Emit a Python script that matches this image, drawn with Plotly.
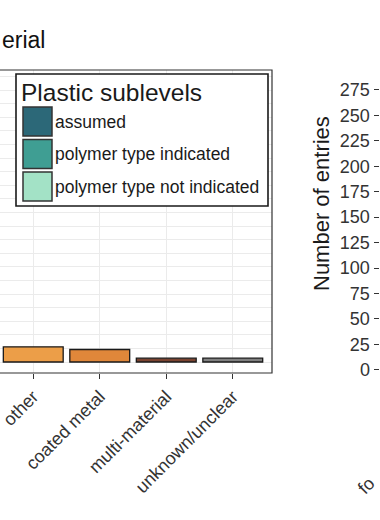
import plotly.graph_objects as go

# ---------------- data ----------------
categories = ["other", "coated metal", "multi-material", "unknown/unclear"]
entries = [28, 23, 7, 7]
bar_colors = ["#EC9E48", "#E0873A", "#7A4330", "#808080"]

legend_title = "Plastic sublevels"
sublevels = ["assumed", "polymer type indicated", "polymer type not indicated"]
sublevel_colors = ["#2C6878", "#3F9E93", "#A3E2C6"]

right_ticks = [0, 25, 50, 75, 100, 125, 150, 175, 200, 225, 250, 275]
right_category = "fo"
panel_title = "erial"
right_title = "Number of entries"

# ---------------- helpers ----------------
W, H = 380, 520
FONT = "Liberation Sans, Arial, Helvetica, sans-serif"


def px(x):
    return x / W


def py(y):
    return 1 - y / H


fig = go.Figure()
fig.add_trace(go.Bar(
    x=categories, y=entries, width=0.9,
    marker=dict(color=bar_colors, line=dict(color="#1a1a1a", width=1.3)),
    showlegend=False, hoverinfo="skip",
))
# right panel (axes only, its bars lie outside the visible window)
fig.add_trace(go.Bar(x=["a"], y=[None], xaxis="x2", yaxis="y2",
                     showlegend=False, hoverinfo="skip"))

left_dom_x = [0, px(272)]
left_dom_y = [py(373), py(70)]
right_dom_y = [py(384), py(70)]

shapes = []
annotations = []

# panel border (left edge lies outside the window)
shapes.append(dict(type="rect", xref="paper", yref="paper",
                   x0=-0.05, x1=left_dom_x[1], y0=left_dom_y[0], y1=left_dom_y[1],
                   line=dict(color="#333333", width=1.2), layer="above"))

# legend box
shapes.append(dict(type="rect", xref="paper", yref="paper",
                   x0=px(16), x1=px(268), y0=py(206), y1=py(74),
                   line=dict(color="#1a1a1a", width=1.6), fillcolor="white",
                   layer="above"))
annotations.append(dict(text=legend_title, xref="paper", yref="paper",
                        x=px(19), y=py(92), xanchor="left", yanchor="middle",
                        showarrow=False, font=dict(size=24.5, color="#1a1a1a", family=FONT)))
for i, (name, col) in enumerate(zip(sublevels, sublevel_colors)):
    top = 107 + i * 32.5
    shapes.append(dict(type="rect", xref="paper", yref="paper",
                       x0=px(23), x1=px(52), y0=py(top + 29), y1=py(top),
                       line=dict(color="#333333", width=1.5), fillcolor=col,
                       layer="above"))
    annotations.append(dict(text=name, xref="paper", yref="paper",
                            x=px(53), y=py(top + 14.5), xanchor="left", yanchor="middle",
                            showarrow=False, font=dict(size=17.5, color="#1a1a1a", family=FONT)))

# panel title (only its visible end)
annotations.append(dict(text=panel_title, xref="paper", yref="paper",
                        x=0, y=py(40), xanchor="left", yanchor="middle",
                        showarrow=False, font=dict(size=23, color="#111111", family=FONT)))

# right panel y title
annotations.append(dict(text=right_title, xref="paper", yref="paper",
                        x=px(322), y=py(204), xanchor="center", yanchor="middle",
                        textangle=-90, showarrow=False,
                        font=dict(size=22, color="#1a1a1a", family=FONT)))

# right panel first category label (only its visible start)
annotations.append(dict(text=right_category, xref="paper", yref="paper",
                        x=px(366), y=py(486), xanchor="center", yanchor="middle",
                        textangle=-45, showarrow=False,
                        font=dict(size=18, color="#333333", family=FONT)))

grid = "#EBEBEB"
fig.update_layout(
    width=W, height=H,
    margin=dict(l=0, r=0, t=0, b=0),
    paper_bgcolor="white", plot_bgcolor="white",
    font=dict(family=FONT, color="#333333"),
    bargap=0.1,
    xaxis=dict(domain=left_dom_x, anchor="y", type="category",
               range=[-0.5, 3.59], showgrid=True, gridcolor=grid, gridwidth=1,
               ticks="outside", ticklen=5, tickwidth=1.2, tickcolor="#333333",
               tickangle=-45, tickfont=dict(size=18, color="#333333"),
               showline=False, zeroline=False),
    yaxis=dict(domain=left_dom_y, anchor="x", range=[-20.2, 536.8],
               showticklabels=False, ticks="", dtick=50, showgrid=True,
               gridcolor=grid, gridwidth=1, zeroline=False,
               minor=dict(dtick=25, showgrid=True, gridcolor=grid, gridwidth=0.8)),
    xaxis2=dict(domain=[px(378.5), 1], anchor="y2", type="category",
                showticklabels=False, showgrid=False, zeroline=False,
                showline=False, ticks=""),
    yaxis2=dict(domain=right_dom_y, anchor="free", position=px(378.5),
                range=[-14, 294.6],
                tickvals=right_ticks, ticks="outside", ticklen=5, tickwidth=1.2,
                tickcolor="#333333", tickfont=dict(size=18, color="#333333"),
                showgrid=False, zeroline=False, showline=False),
    shapes=shapes,
    annotations=annotations,
)

fig.write_html("out.html", config={"displayModeBar": False},
               post_script="document.body.style.margin='0';")
